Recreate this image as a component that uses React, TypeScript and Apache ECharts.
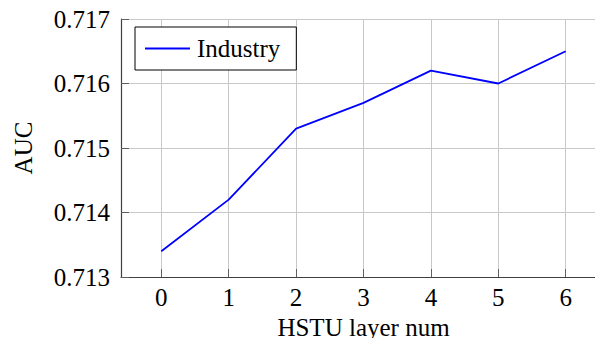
import React, { useEffect, useRef } from "react";
import * as echarts from "echarts";

const layers = [0, 1, 2, 3, 4, 5, 6];
const industryAuc = [0.7134, 0.7142, 0.7153, 0.7157, 0.7162, 0.716, 0.7165];
const seriesName = "Industry";
const xAxisTitle = "HSTU layer num";
const yAxisTitle = "AUC";

const FONT = "Liberation Serif";

export default function App() {
  const ref = useRef<HTMLDivElement>(null);
  useEffect(() => {
    if (!ref.current) return;
    const chart = echarts.init(ref.current, null, { renderer: "svg" });
    const top = 19;
    const bottom = 69;
    const txt = { fontFamily: FONT, fontSize: 25, color: "#000" };
    chart.setOption({
      animation: false,
      grid: [
        { left: 121, right: 0, top, bottom },
        { left: 161.3, right: 37.3, top, bottom },
      ],
      xAxis: [
        {
          gridIndex: 0,
          type: "value",
          min: 0,
          max: 1,
          axisLine: { show: true, lineStyle: { color: "#404040", width: 1.2 } },
          axisTick: { show: false },
          axisLabel: { show: false },
          splitLine: { show: false },
        },
        {
          gridIndex: 1,
          type: "value",
          min: 0,
          max: 6,
          interval: 1,
          name: xAxisTitle,
          nameLocation: "middle",
          nameGap: 35,
          nameTextStyle: { ...txt },
          axisLine: { show: false },
          axisTick: { show: true, inside: true, length: 8, lineStyle: { color: "#606060" } },
          axisLabel: { ...txt, margin: 8 },
          splitLine: { show: true, lineStyle: { color: "#c8c8c8", width: 1 } },
        },
      ],
      yAxis: [
        {
          gridIndex: 0,
          type: "value",
          min: 0.713,
          max: 0.717,
          interval: 0.001,
          name: yAxisTitle,
          nameLocation: "middle",
          nameGap: 85,
          nameTextStyle: { ...txt },
          axisLine: { show: true, lineStyle: { color: "#404040", width: 1.2 } },
          axisTick: { show: true, inside: true, length: 8, lineStyle: { color: "#606060" } },
          axisLabel: {
            ...txt,
            margin: 11,
            formatter: (v: number) => v.toFixed(3),
          },
          splitLine: { show: true, lineStyle: { color: "#c8c8c8", width: 1 } },
        },
        {
          gridIndex: 1,
          type: "value",
          min: 0.713,
          max: 0.717,
          interval: 0.001,
          show: false,
        },
      ],
      legend: {
        data: [{ name: seriesName, icon: "rect" }],
        left: 135,
        top: 27,
        padding: [9, 16, 9, 10],
        itemWidth: 45,
        itemHeight: 2,
        backgroundColor: "#fff",
        borderColor: "#000",
        borderWidth: 1,
        borderRadius: 0,
        textStyle: { ...txt, padding: [0, 0, 0, 2] },
      },
      series: [
        {
          name: seriesName,
          type: "line",
          xAxisIndex: 1,
          yAxisIndex: 1,
          data: layers.map((l, i) => [l, industryAuc[i]]),
          symbol: "none",
          lineStyle: { color: "#0000ff", width: 1.8 },
          itemStyle: { color: "#0000ff" },
        },
      ],
    });
    return () => chart.dispose();
  }, []);
  return <div ref={ref} style={{ width: 603, height: 346, margin: -8 }} />;
}
